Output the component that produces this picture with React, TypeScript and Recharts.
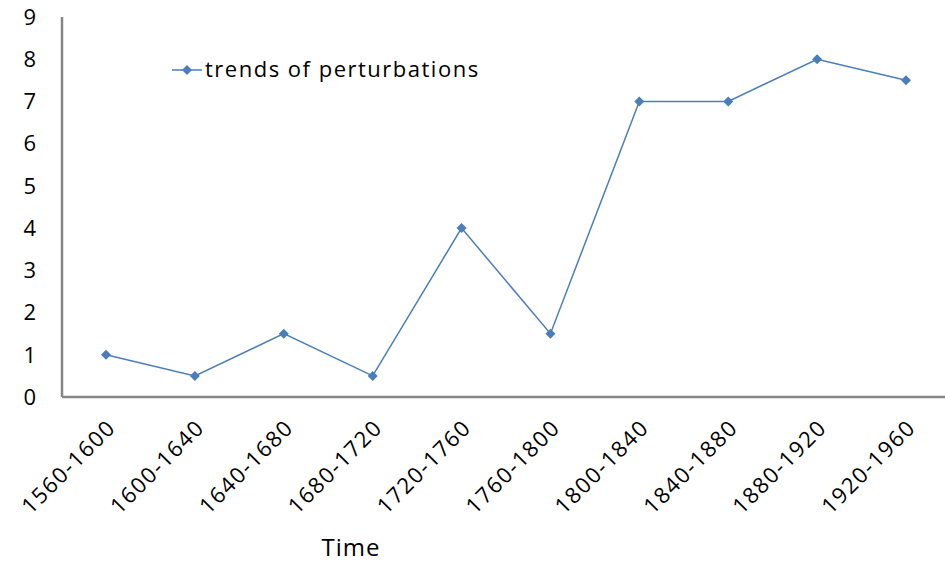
import { Line, LineChart, XAxis, YAxis } from "recharts";

const periods = [
  "1560-1600",
  "1600-1640",
  "1640-1680",
  "1680-1720",
  "1720-1760",
  "1760-1800",
  "1800-1840",
  "1840-1880",
  "1880-1920",
  "1920-1960",
];
const perturbations = [1, 0.5, 1.5, 0.5, 4, 1.5, 7, 7, 8, 7.5];
const yTicks = [0, 1, 2, 3, 4, 5, 6, 7, 8, 9];

const data = periods.map((period, i) => ({
  period,
  value: perturbations[i],
}));

const FONT = "'Open Sans', sans-serif";
const BLUE = "#4a7ebb";
const AXIS = "#868686";

function PeriodTick(props: any) {
  const { x, y, payload } = props;
  return (
    <text
      x={0}
      y={0}
      transform={`translate(${x + 11},${y + 24}) rotate(-45)`}
      textAnchor="end"
      fontSize={22}
      letterSpacing={1.6}
      fontFamily={FONT}
      fill="#000"
    >
      {payload.value}
    </text>
  );
}

function Diamond(props: any) {
  const { cx, cy } = props;
  if (cx == null || cy == null) return null;
  return (
    <path
      d={`M${cx},${cy - 5}L${cx + 5},${cy}L${cx},${cy + 5}L${cx - 5},${cy}Z`}
      fill={BLUE}
    />
  );
}

// series key, drawn over the plot area in the upper left
function SeriesKey() {
  return (
    <svg
      width={330}
      height={34}
      style={{ position: "absolute", left: 170, top: 53 }}
    >
      <line x1={2} y1={17} x2={32} y2={17} stroke={BLUE} strokeWidth={1.5} />
      <path d="M17,12L22,17L17,22L12,17Z" fill={BLUE} />
      <text
        x={35}
        y={24}
        fontSize={22}
        letterSpacing={1.5}
        fontFamily={FONT}
        fill="#000"
      >
        trends of perturbations
      </text>
    </svg>
  );
}

export default function App() {
  return (
    <div
      style={{
        position: "fixed",
        left: 0,
        top: 0,
        width: 945,
        height: 562,
        overflow: "hidden",
        background: "#fff",
      }}
    >
      <LineChart
        width={950}
        height={562}
        data={data}
        margin={{ top: 17, right: 0, left: 0, bottom: 0 }}
      >
        <XAxis
          dataKey="period"
          height={165}
          padding={{ left: 44, right: 44 }}
          stroke={AXIS}
          strokeWidth={2.5}
          tickLine={false}
          tick={<PeriodTick />}
          interval={0}
          label={{
            value: "Time",
            position: "insideBottom",
            offset: 6,
            dx: -155,
            fontSize: 24,
            letterSpacing: 1,
            fontFamily: FONT,
            fill: "#000",
          }}
        />
        <YAxis
          width={62}
          domain={[0, 9]}
          ticks={yTicks}
          stroke={AXIS}
          strokeWidth={2.5}
          tickLine={false}
          tickSize={0}
          tickMargin={26}
          tick={{ fontSize: 22, fontFamily: FONT, fill: "#000" }}
        />
        <Line
          type="linear"
          dataKey="value"
          stroke={BLUE}
          strokeWidth={1.5}
          dot={<Diamond />}
          activeDot={false}
          isAnimationActive={false}
        />
      </LineChart>
      <SeriesKey />
    </div>
  );
}
